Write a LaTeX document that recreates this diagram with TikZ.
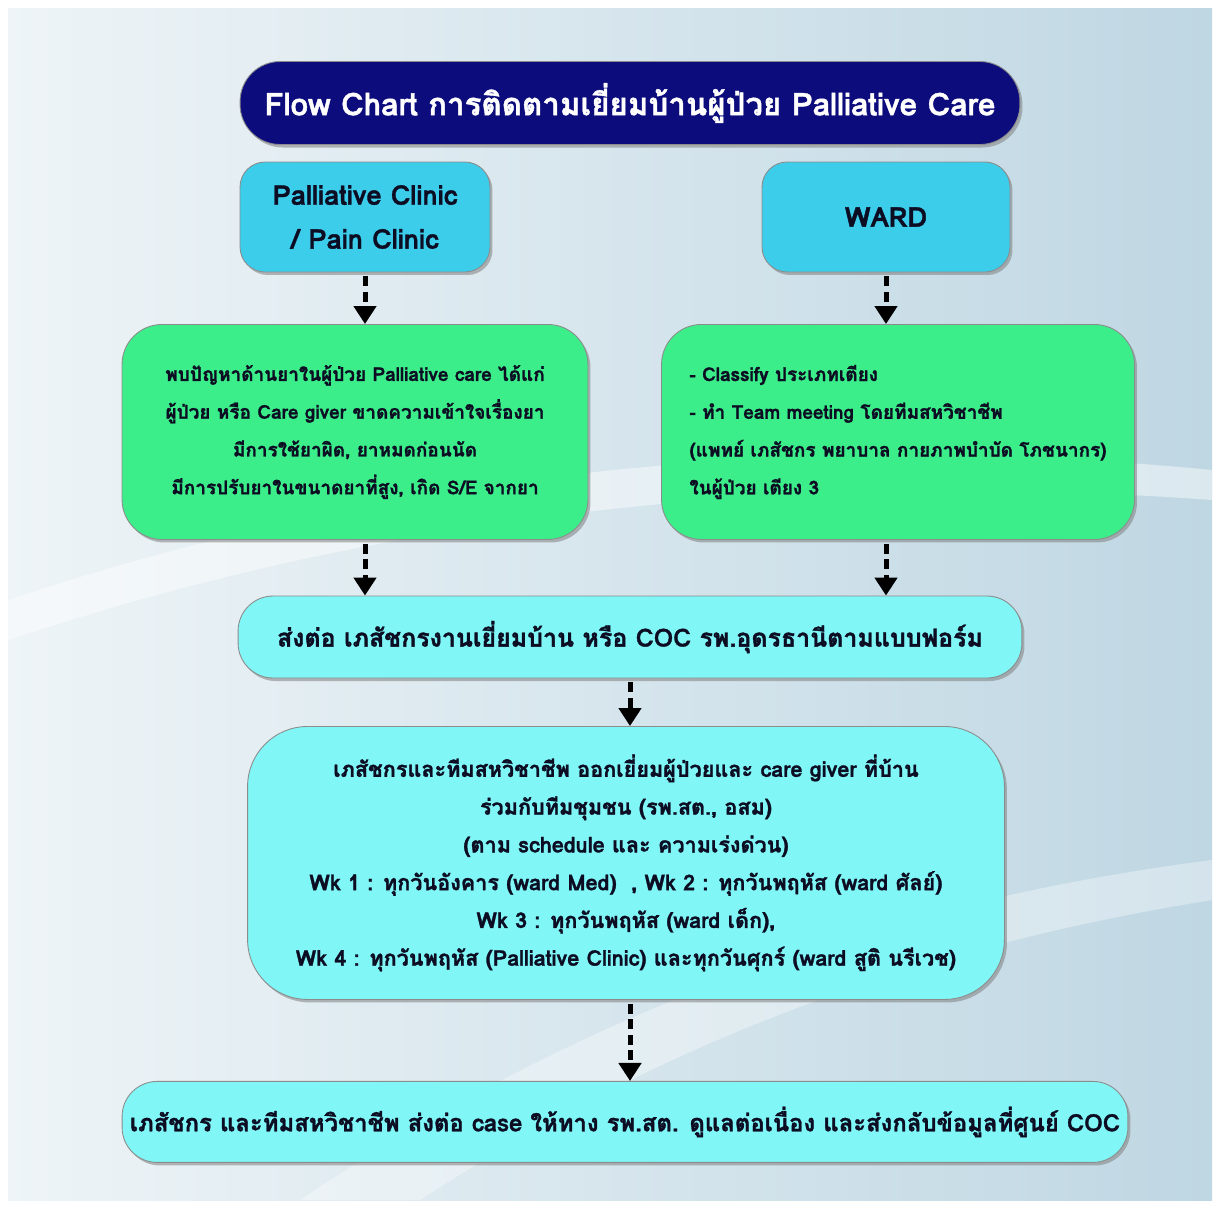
\documentclass[tikz,border=0pt]{standalone}
\usepackage{fontspec}
\newfontfamily\thaifont[Script=Thai, FakeBold=1.3]{Loma}
\usetikzlibrary{arrows.meta,positioning,shapes,shadows,calc}
\definecolor{navy}{HTML}{0C0C7C}
\definecolor{skyblue}{HTML}{3CCDEB}
\definecolor{mint}{HTML}{3CEE8A}
\definecolor{aqua}{HTML}{80F6F6}
\definecolor{bgblue}{HTML}{BFD7E3}
\definecolor{bgpale}{HTML}{EEF4F7}
\definecolor{inkblue}{HTML}{0C0C22}
\tikzset{
	>=stealth, node distance=4.3cm,
	box/.style={draw=black!45, line width=0.5pt, align=center, text=inkblue,
		drop shadow={shadow xshift=0.05cm, shadow yshift=-0.06cm, opacity=0.55}},
	titlebox/.style={box, fill=navy, text=white, rounded corners=0.8cm,
		minimum width=15.6cm, minimum height=1.66cm,
		font=\thaifont\bfseries\fontsize{17.8}{22}\selectfont},
	srcbox/.style={box, fill=skyblue, rounded corners=0.5cm,
		minimum width=5cm, minimum height=2.2cm,
		font=\thaifont\bfseries\fontsize{15.5}{25}\selectfont},
	greenbox/.style={box, fill=mint, rounded corners=0.8cm,
		minimum height=4.3cm,
		font=\thaifont\bfseries\fontsize{10.8}{21.5}\selectfont},
	aquabox/.style={box, fill=aqua, rounded corners=0.7cm,
		minimum height=1.64cm,
		font=\thaifont\bfseries\fontsize{14.2}{22}\selectfont},
	flow/.style={-{Triangle[width=0.44cm,length=0.36cm]}, line width=0.1cm,
		dash pattern=on 0.2cm off 0.11cm, shorten <=0.08cm},
}
\begin{document}
\begin{tikzpicture}[x=0.02cm, y=-0.02cm]
	% background
	\fill[white] (0,0) rectangle (1220,1208);
	\shade[left color=bgpale, right color=bgblue] (8,8) rectangle (1212,1200);
	\fill[white, opacity=0.45] (8,600) .. controls (400,470) and (800,430) .. (1212,470)
		-- (1212,500) .. controls (800,470) and (400,510) .. (8,640) -- cycle;
	\fill[white, opacity=0.35] (300,1200) .. controls (600,1000) and (900,900) .. (1212,860)
		-- (1212,900) .. controls (900,950) and (650,1050) .. (420,1200) -- cycle;

	\node[titlebox] (title) at (630,103) {Flow Chart การติดตามเยี่ยมบ้านผู้ป่วย Palliative Care};
	\node[srcbox] (clinic) at (365,217) {Palliative Clinic\\/ Pain Clinic};
	\node[srcbox, minimum width=4.96cm] (ward) at (886,217) {WARD};

	\node[greenbox, minimum width=9.32cm, below of=clinic, xshift=-0.2cm] (problem)
		{พบปัญหาด้านยาในผู้ป่วย Palliative care ได้แก่\\
		ผู้ป่วย หรือ Care giver ขาดความเข้าใจเรื่องยา\\
		มีการใช้ยาผิด, ยาหมดก่อนนัด\\
		มีการปรับยาในขนาดยาที่สูง, เกิด S/E จากยา};
	\node[greenbox, minimum width=9.46cm, below of=ward, xshift=0.24cm, align=left] (team)
		{- Classify ประเภทเตียง\\
		- ทำ Team meeting โดยทีมสหวิชาชีพ\\
		(แพทย์ เภสัชกร พยาบาล กายภาพบำบัด โภชนากร)\\
		ในผู้ป่วย เตียง 3};

	\node[aquabox, minimum width=15.68cm] (refer) at (630,637)
		{ส่งต่อ เภสัชกรงานเยี่ยมบ้าน หรือ COC รพ.อุดรธานีตามแบบฟอร์ม};
	\node[aquabox, minimum width=15.14cm, minimum height=5.46cm, rounded corners=1.2cm,
		font=\thaifont\bfseries\fontsize{12.3}{21.5}\selectfont,
		below of=refer, node distance=4.52cm, xshift=-0.08cm] (visit)
		{เภสัชกรและทีมสหวิชาชีพ ออกเยี่ยมผู้ป่วยและ care giver ที่บ้าน\\
		ร่วมกับทีมชุมชน (รพ.สต., อสม)\\
		(ตาม schedule และ ความเร่งด่วน)\\
		Wk 1 : ทุกวันอังคาร (ward Med)~~, Wk 2 : ทุกวันพฤหัส (ward ศัลย์)\\
		Wk 3 : ทุกวันพฤหัส (ward เด็ก),\\
		Wk 4 : ทุกวันพฤหัส (Palliative Clinic) และทุกวันศุกร์ (ward สูติ นรีเวช)};
	\node[aquabox, minimum width=20.12cm, minimum height=1.62cm,
		font=\thaifont\bfseries\fontsize{13.6}{22}\selectfont,
		below of=visit, node distance=5.18cm, xshift=-0.02cm] (handoff)
		{เภสัชกร และทีมสหวิชาชีพ ส่งต่อ case ให้ทาง รพ.สต. ดูแลต่อเนื่อง และส่งกลับข้อมูลที่ศูนย์ COC};

	\draw[flow] (clinic.south) -- (clinic.south |- problem.north);
	\draw[flow] (ward.south) -- (ward.south |- team.north);
	\draw[flow] (clinic |- problem.south) -- (clinic |- refer.north);
	\draw[flow] (ward |- team.south) -- (ward |- refer.north);
	\draw[flow] (refer.south) -- (refer.south |- visit.north);
	\draw[flow] (refer |- visit.south) -- (refer |- handoff.north);
\end{tikzpicture}
\end{document}
